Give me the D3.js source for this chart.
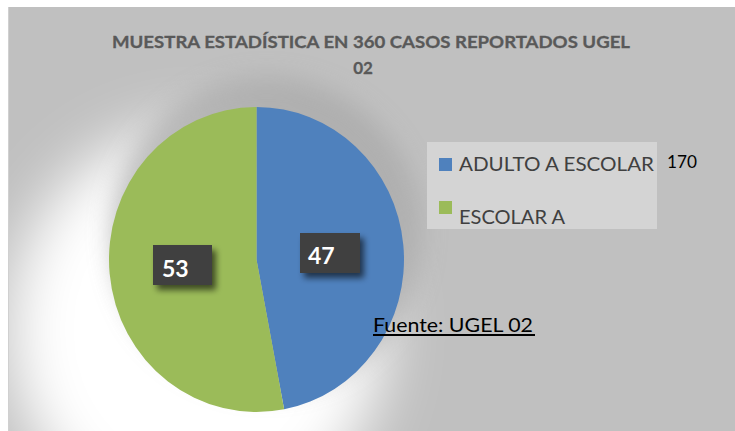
<!DOCTYPE html>
<html>
<head>
<meta charset="utf-8">
<script src="https://cdn.jsdelivr.net/npm/d3@7"></script>
<style>
  html, body { margin: 0; padding: 0; background: #fff; }
  svg { display: block; }
</style>
</head>
<body>
<div id="chart"></div>
<script>
// data
const categories = ['ADULTO A ESCOLAR', 'ESCOLAR A'];
const values = [47, 53];
const colors = ['#4f81bd', '#9bbb59'];
const titleLines = ['MUESTRA ESTADÍSTICA EN 360 CASOS REPORTADOS UGEL', '02'];
const sideNote = '170';
const sourceNote = 'Fuente: UGEL 02';

const width = 735, height = 431;
const font = 'Lato, "Open Sans", sans-serif';
const svg = d3.select('#chart').append('svg')
  .attr('width', width).attr('height', height);

const defs = svg.append('defs');
defs.append('filter').attr('id', 'glow').attr('x', '-50%').attr('y', '-50%')
  .attr('width', '200%').attr('height', '200%')
  .append('feGaussianBlur').attr('stdDeviation', 30);
defs.append('filter').attr('id', 'shade').attr('x', '-50%').attr('y', '-50%')
  .attr('width', '200%').attr('height', '200%')
  .append('feGaussianBlur').attr('stdDeviation', 12);
const boxShadow = defs.append('filter').attr('id', 'boxShadow')
  .attr('x', '-30%').attr('y', '-30%').attr('width', '180%').attr('height', '180%');
boxShadow.append('feGaussianBlur').attr('in', 'SourceAlpha').attr('stdDeviation', 3);
boxShadow.append('feOffset').attr('dx', 4).attr('dy', 5).attr('result', 'off');
boxShadow.append('feComponentTransfer').append('feFuncA').attr('type', 'linear').attr('slope', 0.6);
const merge = boxShadow.append('feMerge');
merge.append('feMergeNode');
merge.append('feMergeNode').attr('in', 'SourceGraphic');

defs.append('clipPath').attr('id', 'area')
  .append('rect').attr('x', 9).attr('y', 8).attr('width', width - 9).attr('height', height - 8);

// chart area
svg.append('rect').attr('x', 8).attr('y', 7).attr('width', width - 8).attr('height', height - 7)
  .attr('fill', '#c0c0c0');
svg.append('line').attr('x1', 8.5).attr('x2', 8.5).attr('y1', 7).attr('y2', height)
  .attr('stroke', '#d0d0d0').attr('stroke-width', 1);

const cx = 256.5, cy = 259.5, r = 147.5, yStretch = 152.5 / 147.5;

const bg = svg.append('g').attr('clip-path', 'url(#area)');
bg.append('ellipse').attr('cx', cx - 60).attr('cy', cy + 70).attr('rx', r + 40).attr('ry', r + 55)
  .attr('fill', '#ffffff').attr('filter', 'url(#glow)');
bg.append('ellipse').attr('cx', cx + 10).attr('cy', cy - 25).attr('rx', r + 8).attr('ry', r + 10)
  .attr('fill', '#a8a8a8').attr('opacity', 0.7).attr('filter', 'url(#shade)');

// title
const title = svg.append('g').attr('font-family', font)
  .attr('font-weight', 'bold').attr('fill', '#595959').attr('text-anchor', 'middle')
  .attr('stroke', '#595959').attr('stroke-width', 0.3);
title.append('text').attr('x', 371).attr('y', 48).attr('font-size', 17)
  .attr('textLength', 518).attr('lengthAdjust', 'spacingAndGlyphs').text(titleLines[0]);
title.append('text').attr('x', 363).attr('y', 74).attr('font-size', 17).text(titleLines[1]);

// pie
const pie = d3.pie().sort(null).value(d => d)(values);
const arc = d3.arc().innerRadius(0).outerRadius(r);
const pieG = svg.append('g').attr('transform', `translate(${cx},${cy}) scale(1,${yStretch})`);
pieG.selectAll('path').data(pie).join('path')
  .attr('d', arc).attr('fill', (d, i) => colors[i]);

// data labels (box left/top, text baseline)
const labelBox = [[300, 233, 60, 40, 308, 264], [153, 245, 59, 40, 162, 277]];
const labels = svg.append('g');
pie.forEach((d, i) => {
  const [bx, by, bw, bh, tx, ty] = labelBox[i];
  labels.append('rect').attr('x', bx).attr('y', by).attr('width', bw).attr('height', bh)
    .attr('fill', '#404040').attr('filter', 'url(#boxShadow)');
  labels.append('text').attr('x', tx).attr('y', ty)
    .attr('font-family', font).attr('font-weight', 'bold')
    .attr('font-size', 23).attr('fill', '#ffffff').text(d.data);
});

// legend
const legend = svg.append('g');
legend.append('rect').attr('x', 427).attr('y', 142).attr('width', 230).attr('height', 87)
  .attr('fill', '#d4d4d4');
const legY = [[158, 171], [201, 224]];
categories.forEach((c, i) => {
  legend.append('rect').attr('x', 439).attr('y', legY[i][0]).attr('width', 13).attr('height', 13)
    .attr('fill', colors[i]);
  legend.append('text').attr('x', 459).attr('y', legY[i][1])
    .attr('font-family', font).attr('font-size', 20)
    .attr('fill', '#404040')
    .attr('textLength', i === 0 ? 195 : 106).attr('lengthAdjust', 'spacingAndGlyphs')
    .text(c);
});

svg.append('text').attr('x', 667).attr('y', 168)
  .attr('font-family', font).attr('font-size', 17)
  .attr('textLength', 30).attr('lengthAdjust', 'spacingAndGlyphs')
  .attr('fill', '#000').text(sideNote);

// source
svg.append('text').attr('x', 373).attr('y', 332)
  .attr('font-family', font).attr('font-size', 20)
  .attr('fill', '#000').attr('textLength', 160).attr('lengthAdjust', 'spacingAndGlyphs')
  .text(sourceNote);
svg.append('line').attr('x1', 373).attr('x2', 535).attr('y1', 335).attr('y2', 335)
  .attr('stroke', '#000').attr('stroke-width', 2);
</script>
</body>
</html>
